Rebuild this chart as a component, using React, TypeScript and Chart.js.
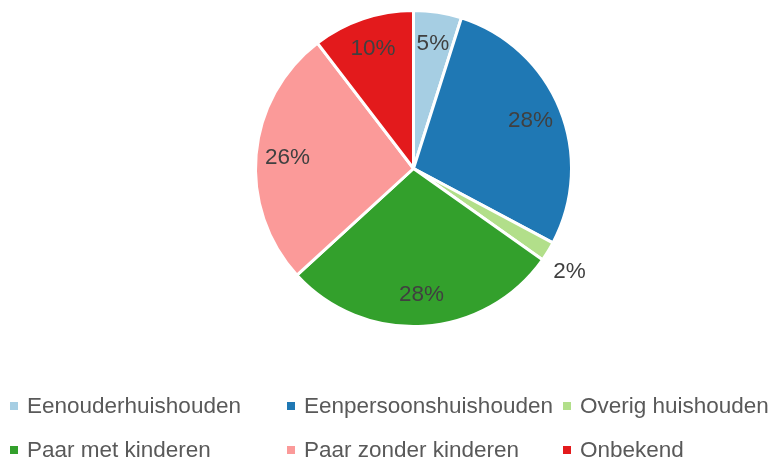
import React, { useEffect, useRef } from "react";
import { Chart, registerables } from "chart.js";

Chart.register(...registerables);

const categories = [
  "Eenouderhuishouden",
  "Eenpersoonshuishouden",
  "Overig huishouden",
  "Paar met kinderen",
  "Paar zonder kinderen",
  "Onbekend",
];
const values = [4.9, 27.9, 2.0, 28.4, 26.4, 10.4];
const colors = ["#a6cee3", "#1f78b4", "#b2df8a", "#33a02c", "#fb9a99", "#e31a1c"];

const FONT = '"Liberation Sans", Arial, sans-serif';

const overlayPlugin = {
  id: "overlay",
  afterDatasetsDraw(chart: any) {
    const ctx = chart.ctx as CanvasRenderingContext2D;
    const meta = chart.getDatasetMeta(0);
    const total = values.reduce((a, b) => a + b, 0);
    ctx.save();
    ctx.font = `22.5px ${FONT}`;
    ctx.fillStyle = "#404040";
    ctx.textAlign = "center";
    ctx.textBaseline = "middle";
    meta.data.forEach((arc: any, i: number) => {
      const p = arc.getProps(["x", "y", "startAngle", "endAngle", "outerRadius"], true);
      const pct = (values[i] / total) * 100;
      const mid = (p.startAngle + p.endAngle) / 2;
      const r = pct < 3 ? p.outerRadius + 29 : p.outerRadius * 0.8;
      const a = pct < 3 ? mid + 0.03 : mid;
      ctx.fillText(Math.round(pct) + "%", p.x + Math.cos(a) * r, p.y + Math.sin(a) * r);
    });

    // legend
    const colX = [10, 287, 563];
    const rowY = [413, 457];
    ctx.textAlign = "left";
    ctx.textBaseline = "alphabetic";
    categories.forEach((name, i) => {
      const cx = colX[i % 3];
      const by = rowY[Math.floor(i / 3)];
      ctx.fillStyle = colors[i];
      ctx.fillRect(cx, by - 11, 8, 8);
      ctx.fillStyle = "#595959";
      ctx.fillText(name, cx + 17, by);
    });
    ctx.restore();
  },
};

export default function App() {
  const ref = useRef<HTMLCanvasElement | null>(null);
  useEffect(() => {
    if (!ref.current) return;
    const chart = new Chart(ref.current, {
      type: "pie",
      data: {
        labels: categories,
        datasets: [
          {
            data: values,
            backgroundColor: colors,
            borderColor: "#ffffff",
            borderWidth: 3,
          },
        ],
      },
      options: {
        responsive: false,
        animation: false,
        devicePixelRatio: 1,
        layout: { padding: { left: 254, right: 196, top: 9, bottom: 131 } },
        plugins: {
          legend: { display: false },
          tooltip: { enabled: false },
        },
      },
      plugins: [overlayPlugin],
    });
    return () => chart.destroy();
  }, []);
  return (
    <div style={{ position: "absolute", left: 0, top: 0, width: 769, height: 459, background: "#fff" }}>
      <canvas ref={ref} width={769} height={459} style={{ width: 769, height: 459 }} />
    </div>
  );
}
